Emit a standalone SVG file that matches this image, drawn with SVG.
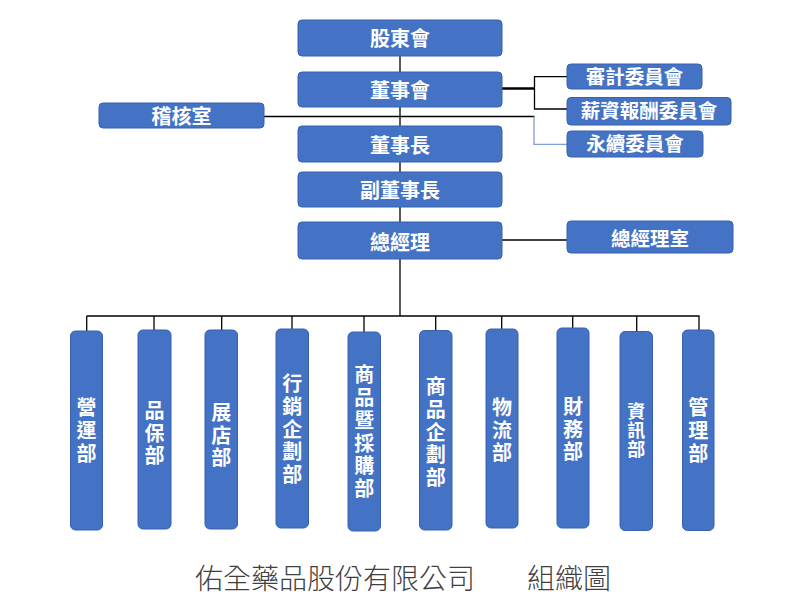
<svg xmlns="http://www.w3.org/2000/svg" width="800" height="616" viewBox="0 0 800 616">
<style>
.box{fill:#4472C4;stroke:#3561AE;stroke-width:1}
.lbl{font-family:"Noto Sans CJK TC","Noto Sans CJK SC",sans-serif;font-weight:bold;fill:#FFFFFF;font-size:20px;text-anchor:middle}
.sm{font-size:19.5px}
.v{font-family:"Noto Sans CJK TC","Noto Sans CJK SC",sans-serif;font-weight:bold;fill:#FFFFFF;font-size:20px;text-anchor:middle;writing-mode:vertical-rl;text-orientation:upright;letter-spacing:2.8px}
.ln{stroke:#000000;stroke-width:1.3;fill:none}
.thick{stroke:#000000;stroke-width:2.6;fill:none}
.blue{stroke:#7F9FD6;stroke-width:1.3;fill:none}
.title{font-family:"Noto Sans CJK TC","Noto Sans CJK SC",sans-serif;font-weight:300;fill:#404040;font-size:28px}
</style>
<rect width="800" height="616" fill="#FFFFFF"/>
<g id="connectors">
  <line class="ln" x1="400" y1="56" x2="400" y2="316"/>
  <line class="thick" x1="502" y1="88.5" x2="534.5" y2="88.5"/>
  <polyline class="ln" points="567,76.7 534.5,76.7 534.5,109 567,109"/>
  <line class="ln" x1="264" y1="116.5" x2="534.5" y2="116.5"/>
  <polyline class="blue" points="534,116.5 534,144.3 567,144.3"/>
  <line class="ln" x1="502" y1="240" x2="567" y2="240"/>
  <line class="ln" x1="86.7" y1="316" x2="699.5" y2="316"/>
  <line class="ln" x1="86.7" y1="316" x2="86.7" y2="331"/>
  <line class="ln" x1="154" y1="316" x2="154" y2="330"/>
  <line class="ln" x1="221.7" y1="316" x2="221.7" y2="330"/>
  <line class="ln" x1="292" y1="316" x2="292" y2="329"/>
  <line class="ln" x1="364" y1="316" x2="364" y2="332"/>
  <line class="ln" x1="435.7" y1="316" x2="435.7" y2="330.5"/>
  <line class="ln" x1="501.7" y1="316" x2="501.7" y2="329"/>
  <line class="ln" x1="572.7" y1="316" x2="572.7" y2="328"/>
  <line class="ln" x1="636.7" y1="316" x2="636.7" y2="331.5"/>
  <line class="ln" x1="699" y1="316" x2="699" y2="330"/>
</g>
<g id="n-gudonghui">
  <rect class="box" x="298" y="20" width="204" height="36" rx="4"/>
  <text class="lbl" x="400" y="46.3">股東會</text>
</g>
<g id="n-dongshihui">
  <rect class="box" x="298" y="72" width="204" height="35" rx="4"/>
  <text class="lbl" x="400" y="97.6">董事會</text>
</g>
<g id="n-jihe">
  <rect class="box" x="99" y="103" width="165" height="25" rx="4"/>
  <text class="lbl" x="181.5" y="124">稽核室</text>
</g>
<g id="n-shenji">
  <rect class="box" x="567" y="64" width="135" height="25" rx="4"/>
  <text class="lbl sm" x="634.5" y="84.4">審計委員會</text>
</g>
<g id="n-xinzi">
  <rect class="box" x="567" y="97.5" width="164" height="27.5" rx="4"/>
  <text class="lbl sm" x="649" y="118.4">薪資報酬委員會</text>
</g>
<g id="n-yongxu">
  <rect class="box" x="567" y="131" width="136" height="26" rx="4"/>
  <text class="lbl sm" x="635" y="151.1">永續委員會</text>
</g>
<g id="n-dongshizhang">
  <rect class="box" x="298" y="126" width="204" height="36" rx="4"/>
  <text class="lbl" x="400" y="152.6">董事長</text>
</g>
<g id="n-fudong">
  <rect class="box" x="298" y="172" width="204" height="35" rx="4"/>
  <text class="lbl" x="400" y="198">副董事長</text>
</g>
<g id="n-zongjingli">
  <rect class="box" x="298" y="222" width="204" height="37" rx="4"/>
  <text class="lbl" x="400" y="249.5">總經理</text>
</g>
<g id="n-zongjinglishi">
  <rect class="box" x="567" y="221" width="166" height="32" rx="4"/>
  <text class="lbl sm" x="650" y="246.4">總經理室</text>
</g>
<g id="d-yingyun">
  <rect class="box" x="70.5" y="331" width="32" height="199" rx="5"/>
  <text class="v" x="86.5" y="432">營運部</text>
</g>
<g id="d-pinbao">
  <rect class="box" x="138" y="330" width="33" height="199" rx="5"/>
  <text class="v" x="154.5" y="434.5">品保部</text>
</g>
<g id="d-zhandian">
  <rect class="box" x="205" y="330" width="32.5" height="199" rx="5"/>
  <text class="v" x="221.2" y="436.5">展店部</text>
</g>
<g id="d-xingxiao">
  <rect class="box" x="276" y="329" width="32.5" height="199" rx="5"/>
  <text class="v" x="292.2" y="430.5">行銷企劃部</text>
</g>
<g id="d-shangpincaigou">
  <rect class="box" x="348" y="332" width="32.5" height="199" rx="5"/>
  <text class="v" x="364.3" y="433">商品暨採購部</text>
</g>
<g id="d-shangpinqihua">
  <rect class="box" x="419.5" y="330.5" width="32.5" height="199.5" rx="5"/>
  <text class="v" x="435.7" y="433.5">商品企劃部</text>
</g>
<g id="d-wuliu">
  <rect class="box" x="486" y="329" width="32" height="199" rx="5"/>
  <text class="v" x="502" y="431.5">物流部</text>
</g>
<g id="d-caiwu">
  <rect class="box" x="557" y="328" width="32" height="200" rx="5"/>
  <text class="v" x="573" y="430.5">財務部</text>
</g>
<g id="d-zixun">
  <rect class="box" x="620" y="331.5" width="32.5" height="199" rx="5"/>
  <text class="v" x="636.2" y="430.5" style="font-size:18px;letter-spacing:1px">資訊部</text>
</g>
<g id="d-guanli">
  <rect class="box" x="682.5" y="330" width="31.5" height="200.5" rx="5"/>
  <text class="v" x="698.3" y="432">管理部</text>
</g>
<g id="title">
  <text class="title" x="195" y="589">佑全藥品股份有限公司</text>
  <text class="title" x="527" y="589">組織圖</text>
</g>
</svg>
